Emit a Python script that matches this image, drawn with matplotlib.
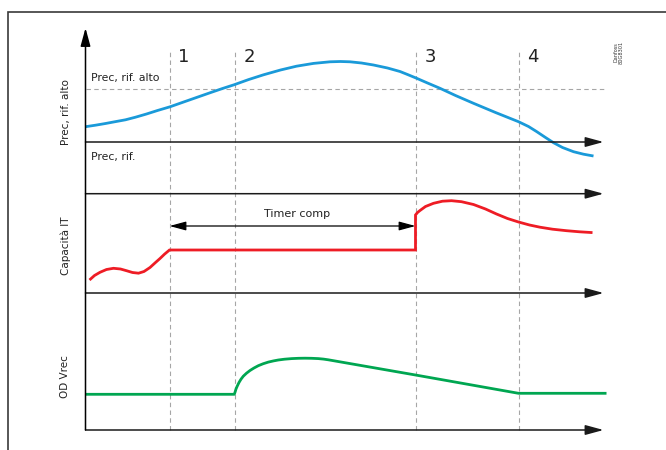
import matplotlib
matplotlib.use("Agg")
import matplotlib.pyplot as plt
from matplotlib.patches import Rectangle

# Ascissa: tempo dall'origine degli assi, ordinata: livello dal fondo del grafico
phase_x = [84, 149, 330, 433]
phase_labels = ["1", "2", "3", "4"]

blue_x = [0, 10, 20, 28, 40, 50, 61, 72, 84.5, 97, 111, 125, 137, 148.5, 163,
          178, 195, 211, 228, 244.5, 255, 264.5, 276, 288, 302, 314.5, 322,
          330.5, 342, 354.5, 370, 388, 410, 433, 443, 451, 460, 468, 477, 488,
          498, 508]
blue_y = [303.3, 304.8, 306.5, 308, 310.2, 312.8, 316, 319.5, 323.2, 327.6,
          332.5, 337.4, 341.5, 345.2, 350.4, 355.2, 360, 363.8, 366.6, 368.2,
          368.5, 368.2, 367, 365, 362, 358.5, 355.5, 352, 347, 341.7, 334.5,
          326.7, 317.5, 308.3, 303.5, 298.5, 292.5, 287.3, 282.5, 278.3, 275.8,
          274]

red_x = [4, 9, 14.5, 21, 28, 35, 41, 47, 53, 58.5, 64.5, 70, 74.5, 79, 84,
         330, 330, 332, 334.5, 340, 348, 357, 366, 376, 388, 400, 411, 422,
         433, 444, 454.5, 467, 481, 494, 507]
red_y = [150, 154.5, 157.7, 160.5, 161.7, 161, 159.3, 157.5, 156.8, 158.5,
         162.5, 167.5, 171.5, 175.8, 180, 180, 215, 217.5, 219.5, 223.5, 226.7,
         228.8, 229.3, 228.3, 225.5, 221, 216, 211.5, 208, 205, 202.8, 200.8,
         199.3, 198.2, 197.4]

green_x = [0, 148.8, 149.6, 150.5, 151.8, 153.5, 155.5, 157.8, 161, 164.5,
           168.5, 172.8, 177.5, 182.8, 188, 192.8, 199, 206.2, 213, 219.5, 226,
           232.8, 238, 242.8, 330, 433, 521]
green_y = [35.7, 35.7, 38, 41, 44, 47.5, 50.8, 53.8, 56.8, 59.5, 62, 64.3,
           66.2, 67.9, 69.1, 70, 70.8, 71.4, 71.7, 71.8, 71.7, 71.4, 70.9, 70.2,
           55, 36.7, 36.7]

axis_levels = [288, 236.3, 137, 0]
axis_end = 518
axis_top = 402
high_ref = 341
timer_level = 204
timer_span = [84, 330]

panel_labels = ["Prec, rif. alto", "Capacità IT", "OD Vrec"]
panel_label_y = [317.5, 184, 53]

BLUE = "#1a9ad9"
RED = "#ee1c25"
GREEN = "#00a651"
GRID = "#a6a6a6"
narrow = ["Liberation Sans Narrow", "DejaVu Sans"]

fig = plt.figure(figsize=(6.66, 4.5), dpi=100)
ax = fig.add_axes([0, 0, 1, 1])
ax.set_xlim(-85.5, 580.5)
ax.set_ylim(-20, 430)
ax.axis("off")

# cornice
fig.add_artist(Rectangle((8.3 / 666, -0.5), 2, 1.5 - 12.3 / 450, transform=fig.transFigure,
                         fill=False, edgecolor="#3a3a3a", lw=1.2))

# linee tratteggiate
for x in phase_x:
    ax.plot([x, x], [0, 380], color=GRID, lw=0.8, dashes=(4, 3))
ax.plot([0, axis_end], [high_ref, high_ref], color=GRID, lw=0.8, dashes=(4, 3))

# assi
arrow_style = "-|>,head_length=1.1,head_width=0.3"
for y in axis_levels:
    ax.annotate("", xy=(axis_end, y), xytext=(0, y),
                arrowprops=dict(arrowstyle=arrow_style, color="#1a1a1a", lw=1.1,
                                mutation_scale=10, shrinkA=0, shrinkB=0))
ax.annotate("", xy=(0, axis_top), xytext=(0, 0),
            arrowprops=dict(arrowstyle=arrow_style, color="black", lw=1.1,
                            mutation_scale=10, shrinkA=0, shrinkB=0))

# curve
ax.plot(blue_x, blue_y, color=BLUE, lw=2, solid_joinstyle="round", solid_capstyle="butt")
ax.plot(red_x, red_y, color=RED, lw=2, solid_joinstyle="miter", solid_capstyle="butt")
ax.plot(green_x, green_y, color=GREEN, lw=2, solid_joinstyle="round", solid_capstyle="butt")

# Timer comp
ax.annotate("", xy=(timer_span[0], timer_level), xytext=(timer_span[1], timer_level),
            arrowprops=dict(arrowstyle="<|-|>,head_length=1.0,head_width=0.27", color="black",
                            lw=0.9, mutation_scale=10, shrinkA=0, shrinkB=0))
ax.text(sum(timer_span) / 2 + 4.5, 216, "Timer comp", ha="center", va="center",
        fontsize=8, family=narrow, color="#222222")

# testi
for x, lab in zip(phase_x, phase_labels):
    ax.text(x + 9, 368, lab, ha="left", va="baseline", fontsize=13, family=narrow,
            color="#222222")
ax.text(5.5, 352.3, "Prec, rif. alto", ha="left", va="center", fontsize=7.8,
        family=narrow, color="#222222")
ax.text(5.5, 273, "Prec, rif.", ha="left", va="center", fontsize=7.8,
        family=narrow, color="#222222")
for lab, y in zip(panel_labels, panel_label_y):
    ax.text(-20, y, lab, rotation=90, ha="center", va="center", fontsize=7.5,
            family="DejaVu Sans", color="#222222")
ax.text(533, 378, "Danfoss\n80G8301", rotation=90, ha="center", va="center",
        fontsize=3.6, family=narrow, color="#333333", linespacing=1.0)

fig.savefig("out.png", dpi=100)
